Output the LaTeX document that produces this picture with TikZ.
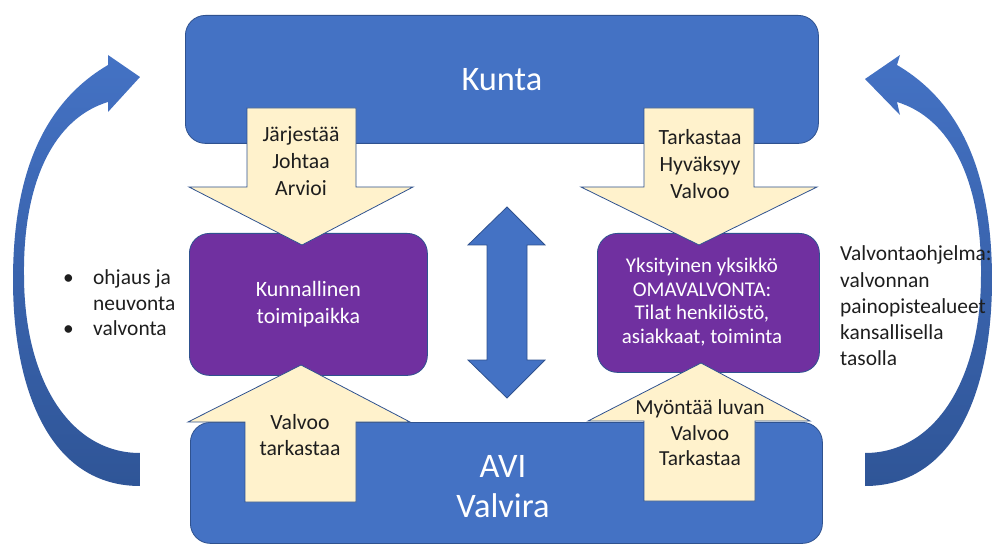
\documentclass[tikz,border=0pt]{standalone}
\usepackage{fontspec}
\setmainfont{Carlito}
\definecolor{kblue}{HTML}{4472C4}
\definecolor{kborder}{HTML}{2F528F}
\definecolor{kpurple}{HTML}{7030A0}
\definecolor{kyellow}{HTML}{FFF2CC}
\definecolor{kdark}{HTML}{2F5597}
\definecolor{ktext}{HTML}{1E1E1E}
\begin{document}
\begin{tikzpicture}[x=1bp,y=-1bp,
  bluebox/.style={fill=kblue, draw=kborder, line width=0.8bp, rounded corners=20bp, inner sep=0pt, anchor=north west},
  purplebox/.style={fill=kpurple, draw=kborder, line width=0.8bp, rounded corners=20bp, inner sep=0pt, anchor=north west},
  yarrow/.style={fill=kyellow, draw=kborder, line width=0.8bp},
  barrow/.style={fill=kblue, draw=kborder, line width=0.8bp},
  carrow/.style={top color=kblue, bottom color=kdark},
  bigtext/.style={text=white, font=\fontsize{34.5}{40}\selectfont, align=center},
  whitetext/.style={text=white, font=\fontsize{22}{27}\selectfont, align=center, inner sep=0pt},
  armtext/.style={text=ktext, font=\fontsize{21.8}{27}\selectfont, align=center, inner sep=0pt},
  sidetext/.style={text=ktext, font=\fontsize{21.5}{25.5}\selectfont, align=left, inner sep=0pt, anchor=west}
]
\useasboundingbox (0,0) rectangle (995,545);

% curved side arrows
\path[carrow] (140,486) .. controls (50,486) and (13,390) .. (13,280)
  .. controls (13,180) and (40,105) .. (108,65)
  -- (108,55) -- (140,77) -- (108,112) -- (108,102)
  .. controls (55,118) and (23,180) .. (24,275)
  .. controls (24,380) and (70,453) .. (140,453) -- cycle;
\begin{scope}[shift={(1005,0)}, xscale=-1]
\path[carrow] (140,486) .. controls (50,486) and (13,390) .. (13,280)
  .. controls (13,180) and (40,105) .. (108,65)
  -- (105,55) -- (140,79) -- (105,115) -- (108,102)
  .. controls (55,118) and (23,180) .. (24,275)
  .. controls (24,380) and (70,453) .. (140,453) -- cycle;
\end{scope}

% main boxes
\node[bluebox, minimum width=633bp, minimum height=128bp, bigtext] (kunta) at (185,15) {Kunta};
\node[bluebox, minimum width=632bp, minimum height=121bp] (avi) at (190,422) {};
\node[bigtext, inner sep=0pt] (avitext) at (503,487) {AVI\\Valvira};
\node[purplebox, minimum width=238bp, minimum height=142bp, whitetext] (kunnal) at (189,233) {Kunnallinen\\toimipaikka};
\node[purplebox, minimum width=222bp, minimum height=139bp] (yks) at (597,233) {};
\node[whitetext, font=\fontsize{21}{23.5}\selectfont] (ykstext) at (702,302) {Yksityinen yksikkö\\OMAVALVONTA:\\Tilat henkilöstö,\\asiakkaat, toiminta};

% yellow arrows
\path[yarrow] (247,108) -- (356,108) -- (356,187) -- (413,187) -- (302,245) -- (189,187) -- (247,187) -- cycle;
\path[yarrow] (644,108) -- (754,108) -- (754,187) -- (817,187) -- (699,245) -- (581,187) -- (644,187) -- cycle;
\path[yarrow] (245,502) -- (356,502) -- (356,422) -- (410,422) -- (301,365) -- (188,422) -- (245,422) -- cycle;
\path[yarrow] (644,501) -- (755,501) -- (755,421) -- (810,421) -- (701,363) -- (588,421) -- (644,421) -- cycle;

% double arrow
\path[barrow] (507,207) -- (545,245) -- (527,245) -- (527,360) -- (545,360) -- (507,398) -- (468,360) -- (487,360) -- (487,245) -- (468,245) -- cycle;

% arrow texts
\node[armtext] (t1) at (301,161) {Järjestää\\Johtaa\\Arvioi};
\node[armtext] (t2) at (700,164) {Tarkastaa\\Hyväksyy\\Valvoo};
\node[armtext] (t3) at (300,435) {Valvoo\\tarkastaa};
\node[armtext, font=\fontsize{21.5}{25.5}\selectfont] (t4) at (700,433) {Myöntää luvan\\Valvoo\\Tarkastaa};

% side texts
\node[sidetext] (left) at (63,303) {\makebox[30bp][l]{•}ohjaus ja\\\makebox[30bp][l]{}neuvonta\\\makebox[30bp][l]{•}valvonta};
\node[sidetext, font=\fontsize{21.5}{26.3}\selectfont] (right) at (840,306) {Valvontaohjelma:\\valvonnan\\painopistealueet\\kansallisella\\tasolla};
\end{tikzpicture}
\end{document}
